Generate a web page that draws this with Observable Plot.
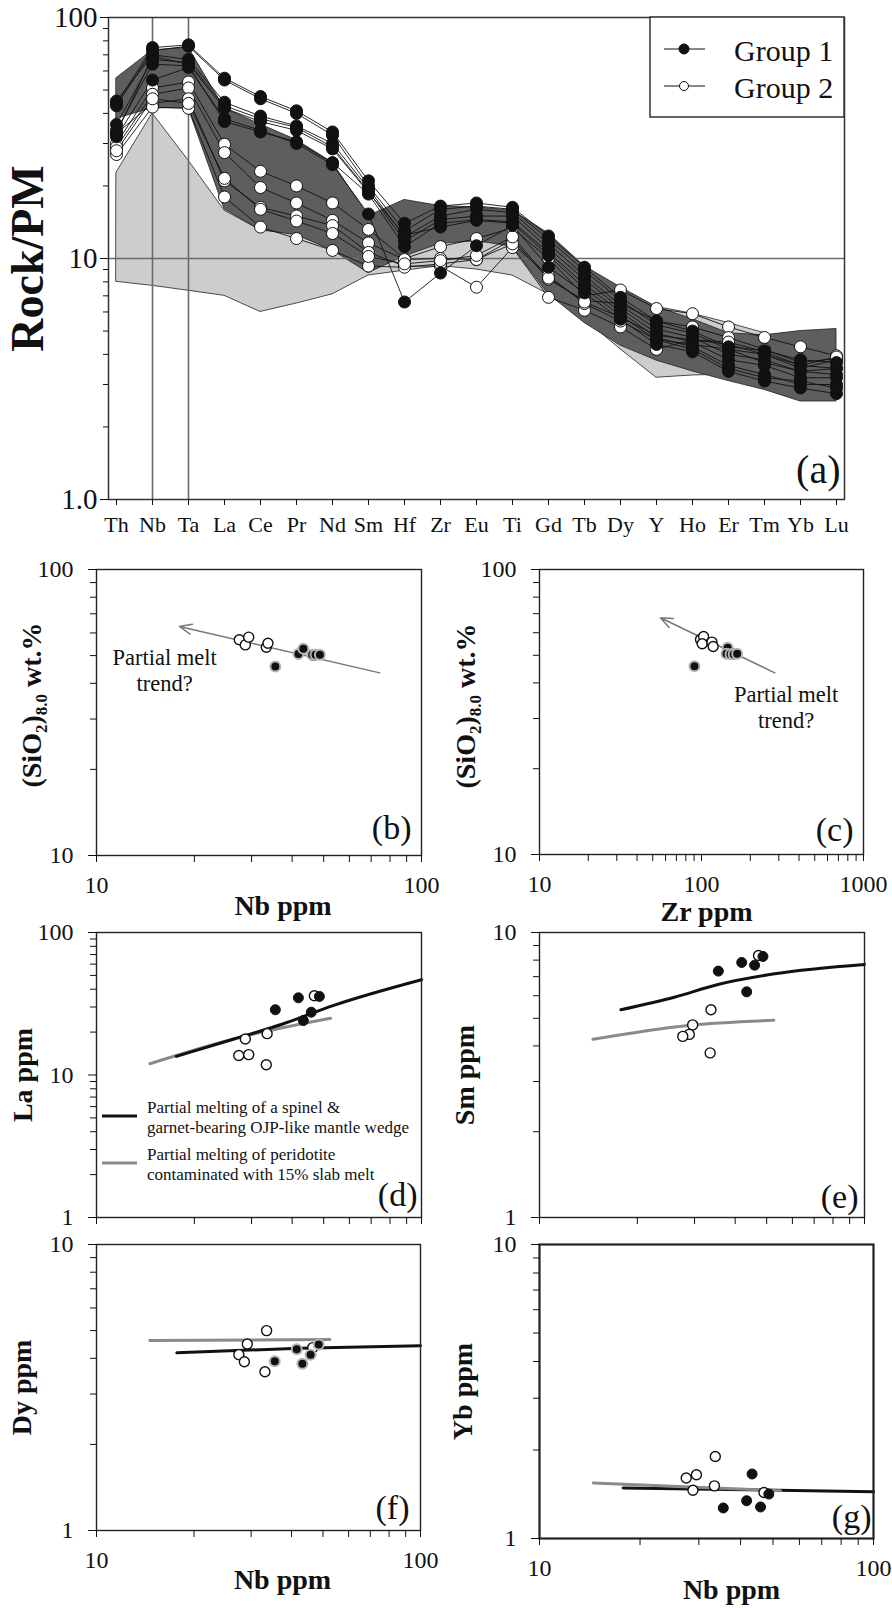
<!DOCTYPE html>
<html><head><meta charset="utf-8">
<script src="https://cdn.jsdelivr.net/npm/d3@7"></script>
<script src="https://cdn.jsdelivr.net/npm/@observablehq/plot@0.6"></script>
<style>
html,body{margin:0;padding:0;background:#fff;}
#page{position:relative;width:892px;height:1608px;overflow:hidden;background:#fff;}
#page svg{position:absolute;overflow:visible;}
</style></head><body><div id="page"></div>
<script>
// ---------- Panel (a): spider diagram ----------
const elements = ["Th","Nb","Ta","La","Ce","Pr","Nd","Sm","Hf","Zr","Eu","Ti","Gd","Tb","Dy","Y","Ho","Er","Tm","Yb","Lu"];
const group1 = [
  [44, 75, 77, 56, 47, 41, 33.5, 21, 14, 16.5, 17, 16.3, 12.4, 9.2, 6.9, 5.5, 5.0, 4.3, 4.15, 3.8, 3.7],
  [43, 73, 76, 55, 46, 40, 32.5, 20, 13, 16, 16.5, 16, 12, 8.9, 6.7, 5.3, 4.9, 4.2, 4.0, 3.6, 3.5],
  [45, 70, 67, 44.5, 39, 35.5, 30, 19.5, 12.3, 15, 16, 15.5, 11.5, 8.5, 6.4, 5.1, 4.7, 4.0, 3.8, 3.4, 3.3],
  [36, 67, 65, 43, 38, 35, 29, 19, 11.8, 14.5, 15, 15, 11, 8.2, 6.2, 4.9, 4.5, 3.8, 3.6, 3.2, 3.2],
  [34, 64, 63, 37, 33.5, 30.5, 25, 18.5, 11.2, 14, 14.5, 14.2, 10.6, 7.8, 6.0, 4.7, 4.3, 3.6, 3.3, 3.0, 3.0],
  [32, 55, 62, 38, 34, 30, 24.5, 15.3, 6.6, 8.7, 11.3, 13.7, 9.2, 7.2, 5.6, 4.4, 4.1, 3.4, 3.1, 2.9, 2.75],
  [33, 69, 64, 42, 37, 34, 28.5, 18.8, 12.5, 13.5, 14.4, 14, 10.3, 7.5, 5.8, 4.6, 4.2, 3.5, 3.2, 3.1, 2.9]
];
const group2 = [
  [30, 51, 54, 29.8, 23, 20, 17, 13.2, 10, 11.2, 12.1, 13.4, 10, 7.0, 7.4, 6.2, 5.9, 5.2, 4.7, 4.3, 3.95],
  [29, 48, 51, 27.5, 19.7, 17, 14.4, 11.6, 9.9, 10, 9.9, 12, 8.2, 6.7, 6.5, 5.5, 5.2, 4.7, 4.2, 3.7, 3.85],
  [33, 44, 46, 21, 16.3, 15, 13.7, 10.6, 9.3, 9.3, 7.6, 11.1, 6.9, 6.1, 5.2, 4.2, 4.6, 4.4, 4.0, 3.5, 3.8],
  [27, 42.5, 42, 18, 13.5, 12.1, 10.8, 9.3, 9.2, 9.5, 9.9, 11.5, 8.5, 6.5, 5.5, 4.6, 4.4, 4.2, 3.7, 3.4, 3.5],
  [28, 46, 44, 21.5, 16, 14.3, 12.7, 10.2, 9.5, 9.8, 10.3, 12.3, 8.3, 6.6, 5.7, 4.8, 4.6, 4.5, 4.1, 3.6, 3.9]
];
const darkUpper  = [56, 73, 75, 42, 36, 31, 25, 15, 17.5, 16.5, 16.3, 15.8, 12.7, 9.3, 7.6, 6.3, 5.6, 4.9, 4.8, 5.0, 5.1];
const darkLower  = [38, 42, 42, 16, 13.1, 12.5, 10.8, 8.7, 10.2, 11.5, 11.8, 11.2, 7.1, 5.4, 4.35, 3.77, 3.4, 3.1, 2.85, 2.55, 2.55];
const lightUpper = [22.7, 40, 25.5, 15.8, 13.1, 12.7, 11.5, 9.6, 10.5, 12, 12, 11.5, 9.5, 7.8, 6.8, 6.3, 5.9, 5.4, 4.9, 4.3, 4.0];
const lightLower = [8.0, 7.7, 7.35, 7.0, 6.0, 6.5, 7.1, 8.5, 8.9, 9.3, 9.0, 8.5, 7.1, 5.6, 4.2, 3.2, 3.27, 3.3, 3.2, 3.1, 3.0];
const ticksA = [1, 10, 100];
const minorA = [2,3,4,5,6,7,8,9,20,30,40,50,60,70,80,90];
const legendA = ["Group 1", "Group 2"];

// ---------- Panel (b): SiO2(8.0) vs Nb ----------
const nbB_w = [27.5, 28.7, 29.4, 33.3, 33.7, 46.5];
const sio2B_w = [56.8, 54.5, 58.0, 53.5, 55.2, 50.2];
const nbB_b = [35.5, 41.8, 43.3, 46.1, 47.2, 48.7];
const sio2B_b = [45.8, 50.6, 52.8, 50.3, 50.3, 50.3];
const arrowB = [{x1: 74.4, y1: 43.5, x2: 18.0, y2: 63.2}];
const noteB = [{x: 16.2, y: 44.7, t: "Partial melt\ntrend?"}];

// ---------- Panel (c): SiO2(8.0) vs Zr ----------
const zrC_w = [98.6, 103, 101, 116, 118, 155];
const sio2C_w = [56.8, 58.2, 54.9, 55.6, 53.7, 50.6];
const zrC_b = [90.5, 145, 142.6, 151, 158, 166];
const sio2C_b = [45.8, 53.1, 50.6, 50.4, 50.4, 50.6];
const arrowC = [{x1: 283.5, y1: 43.4, x2: 55.8, y2: 67.7}];
const noteC = [{x: 333, y: 33.0, t: "Partial melt\ntrend?"}];

// ---------- Panel (d): La vs Nb ----------
const nbD_w = [28.7, 27.4, 29.4, 33.5, 33.3, 46.8];
const laD_w = [17.9, 13.7, 13.9, 19.5, 11.8, 36];
const nbD_b = [35.5, 41.8, 43.3, 45.8, 48.5];
const laD_b = [28.7, 34.8, 24.1, 27.6, 35.6];
const modelD_black_nb = [17.6, 26.5, 37.6, 53.7, 100];
const modelD_black_la = [13.5, 17.9, 22.9, 30.8, 46.6];
const modelD_gray_nb = [14.6, 27.7, 52.5];
const modelD_gray_la = [12.0, 18.4, 25.0];
const legendD = [
  "Partial melting of a spinel &\ngarnet-bearing OJP-like mantle wedge",
  "Partial melting of peridotite\ncontaminated with 15% slab melt"
];

// ---------- Panel (e): Sm vs Nb ----------
const nbE_w = [33.7, 29.6, 28.9, 27.6, 33.5, 47.2];
const smE_w = [5.36, 4.74, 4.39, 4.32, 3.78, 8.3];
const nbE_b = [35.5, 41.9, 45.9, 48.7, 43.4];
const smE_b = [7.32, 7.85, 7.68, 8.24, 6.19];
const modelE_black_nb = [17.8, 26.0, 35.4, 52.9, 100];
const modelE_black_sm = [5.36, 5.93, 6.57, 7.16, 7.72];
const modelE_gray_nb = [14.6, 28.6, 52.6];
const modelE_gray_sm = [4.22, 4.72, 4.92];

// ---------- Panel (f): Dy vs Nb ----------
const nbF_w = [33.5, 29.2, 27.5, 28.6, 33.1, 46.5];
const dyF_w = [5.0, 4.49, 4.12, 3.89, 3.59, 4.36];
const nbF_b = [35.5, 41.5, 43.2, 45.8, 48.5];
const dyF_b = [3.91, 4.3, 3.83, 4.12, 4.47];
const modelF_black_nb = [17.7, 42.4, 100];
const modelF_black_dy = [4.18, 4.34, 4.43];
const modelF_gray_nb = [14.6, 52.5];
const modelF_gray_dy = [4.62, 4.65];

// ---------- Panel (g): Yb vs Nb ----------
const nbG_w = [33.6, 27.5, 29.5, 28.8, 33.4, 47.0];
const ybG_w = [1.90, 1.606, 1.648, 1.46, 1.51, 1.434];
const nbG_b = [43.3, 35.5, 41.7, 45.9, 48.6];
const ybG_b = [1.657, 1.27, 1.344, 1.28, 1.416];
const modelG_black_nb = [17.8, 100];
const modelG_black_yb = [1.484, 1.443];
const modelG_gray_nb = [14.5, 52.7];
const modelG_gray_yb = [1.544, 1.453];

const dec1 = [2,3,4,5,6,7,8,9];
const dec10 = [20,30,40,50,60,70,80,90];
const dec100 = [200,300,400,500,600,700,800,900];

// ---------- helpers ----------
const FONT = '"Liberation Serif", "Times New Roman", Times, serif';
const INK = "#111";
const DARK = "#5e5e5e", LIGHT = "#cdcdd0", MODELGRAY = "#8a8a8a", ARROW = "#777";
const page = document.getElementById("page");
function place(svg, left, top) {
  svg.style.position = "absolute";
  svg.style.left = left + "px";
  svg.style.top = top + "px";
  page.appendChild(svg);
  return svg;
}

// ---------- Panel (a) ----------
const rowsA = [];
group1.forEach((vals, i) => vals.forEach((v, j) => rowsA.push({el: elements[j], v, id: "g1-" + i, grp: 1})));
group2.forEach((vals, i) => vals.forEach((v, j) => rowsA.push({el: elements[j], v, id: "g2-" + i, grp: 2})));
const fieldA = elements.map((el, j) => ({el, du: darkUpper[j], dl: darkLower[j], lu: lightUpper[j], ll: lightLower[j]}));

const svgA = Plot.plot({
  width: 892, height: 545,
  marginLeft: 108, marginRight: 48, marginTop: 17, marginBottom: 46,
  x: {type: "point", domain: elements, padding: 0, label: null},
  y: {type: "log", domain: [1, 100], label: null},
  style: {fontFamily: FONT, background: "transparent", color: INK},
  marks: [
    Plot.areaY(fieldA, {x: "el", y1: "ll", y2: "lu", fill: LIGHT, stroke: "#222", strokeWidth: 0.8}),
    Plot.areaY(fieldA, {x: "el", y1: "dl", y2: "du", fill: DARK, stroke: "#222", strokeWidth: 0.8}),
    Plot.ruleY([10], {stroke: "#6a6a6a", strokeWidth: 1.6}),
    Plot.ruleX(["Nb", "Ta"], {stroke: "#6a6a6a", strokeWidth: 1.6}),
    Plot.line(rowsA, {x: "el", y: "v", z: "id", stroke: INK, strokeWidth: 0.9}),
    Plot.dot(rowsA.filter(d => d.grp === 2), {x: "el", y: "v", r: 6, fill: "white", stroke: INK, strokeWidth: 1}),
    Plot.dot(rowsA.filter(d => d.grp === 1), {x: "el", y: "v", r: 6, fill: INK, stroke: INK, strokeWidth: 1}),
    Plot.frame({stroke: "#333", strokeWidth: 1.5}),
    Plot.axisY(ticksA, {tickSize: 8, tickPadding: 3, fontSize: 29, tickFormat: d => d === 1 ? "1.0" : String(d), label: null}),
    Plot.axisY(minorA, {tickSize: 5, tickFormat: () => "", label: null}),
    Plot.axisX(elements, {tickSize: 6, tickPadding: 11, fontSize: 22, label: null}),
    Plot.text(["Rock/PM"], {frameAnchor: "left", textAnchor: "middle", lineAnchor: "middle", dx: -80, rotate: -90, fontSize: 46, fontWeight: "bold", fill: INK}),
    Plot.text(["(a)"], {frameAnchor: "bottom-right", textAnchor: "end", lineAnchor: "middle", dx: -4, dy: -29, fontSize: 40, fill: INK})
  ]
});
place(svgA, 0, 0);
// legend box for panel (a)
{
  const g = d3.select(svgA).append("g").attr("font-family", FONT);
  g.append("rect").attr("x", 650).attr("y", 17).attr("width", 194).attr("height", 100)
    .attr("fill", "white").attr("stroke", "#333").attr("stroke-width", 1.5);
  legendA.forEach((lab, i) => {
    const y = i === 0 ? 49 : 86;
    g.append("line").attr("x1", 664).attr("x2", 705).attr("y1", y).attr("y2", y).attr("stroke", INK).attr("stroke-width", 1);
    g.append("circle").attr("cx", 684).attr("cy", y).attr("r", i === 0 ? 5 : 4.5)
      .attr("fill", i === 0 ? INK : "white").attr("stroke", INK).attr("stroke-width", 1);
    g.append("text").attr("x", 734).attr("y", y + 12).attr("text-anchor", "start")
      .attr("font-size", 30).attr("fill", INK).text(lab);
  });
}

// ---------- scatter panel factory ----------
function scatterPanel(cfg) {
  const marks = [
    ...cfg.marks,
    Plot.frame({stroke: "#222", strokeWidth: cfg.frameWidth || 1.4}),
    Plot.axisY(cfg.yMajor, {tickSize: 8, tickPadding: 15, fontSize: 24, tickFormat: d => String(d), label: null}),
    Plot.axisY(cfg.yMinor, {tickSize: 6, tickFormat: () => "", label: null}),
    Plot.axisX(cfg.xMajor, {tickSize: 7, tickPadding: 13, fontSize: 24, tickFormat: cfg.xLabels ? (d => String(d)) : (() => ""), label: null}),
    Plot.axisX(cfg.xMinor, {tickSize: 7, tickFormat: () => "", label: null}),
    Plot.text([cfg.tag], {frameAnchor: "bottom-right", textAnchor: "end", lineAnchor: "middle", dx: cfg.tagDx, dy: cfg.tagDy, fontSize: 34, fill: INK})
  ];
  if (cfg.ylabel) marks.push(Plot.text([cfg.ylabel], {frameAnchor: "left", textAnchor: "middle", lineAnchor: "middle", dx: -cfg.ylabelOff, rotate: -90, fontSize: 28, fontWeight: "bold", fill: INK}));
  if (cfg.xlabel) marks.push(Plot.text([cfg.xlabel], {frameAnchor: "bottom", textAnchor: "middle", lineAnchor: "middle", dx: cfg.xlabelDx, dy: cfg.xlabelDy, fontSize: 28, fontWeight: "bold", fill: INK}));
  const svg = Plot.plot({
    width: cfg.width, height: cfg.height,
    marginLeft: cfg.ml, marginRight: cfg.mr, marginTop: cfg.mt, marginBottom: cfg.mb,
    x: {type: "log", domain: cfg.xDomain, label: null},
    y: {type: "log", domain: cfg.yDomain, label: null},
    style: {fontFamily: FONT, background: "transparent", color: INK},
    marks
  });
  return place(svg, cfg.left, cfg.top);
}
function sio2Label(svg, cx, cy) {
  const t = d3.select(svg).append("text")
    .attr("transform", `translate(${cx},${cy}) rotate(-90)`)
    .attr("text-anchor", "middle").attr("font-family", FONT).attr("font-size", 28)
    .attr("font-weight", "bold").attr("fill", INK).attr("dy", "0.32em");
  t.append("tspan").text("(SiO");
  t.append("tspan").attr("font-size", 17).attr("dy", 6).text("2");
  t.append("tspan").attr("dy", -6).text(")");
  t.append("tspan").attr("font-size", 17).attr("dy", 6).text("8.0");
  t.append("tspan").attr("dy", -6).text(" wt.%");
}
const whiteDot = (xs, ys) => Plot.dot(xs, {x: xs, y: ys, r: 5, fill: "white", stroke: INK, strokeWidth: 1.4});
const blackDot = (xs, ys, halo) => Plot.dot(xs, {x: xs, y: ys, r: 5, fill: INK, stroke: halo ? "#b4b4b4" : INK, strokeWidth: halo ? 2 : 1});
const model = (xs, ys, color) => Plot.line(xs, {x: xs, y: ys, stroke: color, strokeWidth: 3, curve: "monotone-x"});

// (b)
const svgB = scatterPanel({
  left: 0, top: 540, width: 446, height: 380, ml: 96, mr: 25, mt: 29, mb: 65,
  xDomain: [10, 100], yDomain: [10, 100], xMajor: [10, 100], xMinor: dec10, yMajor: [10, 100], yMinor: dec10,
  xLabels: true, tag: "(b)", tagDx: -10, tagDy: -27, xlabel: "Nb ppm", xlabelDx: 24, xlabelDy: 51,
  marks: [
    Plot.arrow(arrowB, {x1: "x1", y1: "y1", x2: "x2", y2: "y2", stroke: ARROW, strokeWidth: 1.5, headLength: 13, headAngle: 45}),
    Plot.text(noteB, {x: "x", y: "y", text: "t", fontSize: 22.5, lineHeight: 1.18, fill: INK}),
    whiteDot(nbB_w, sio2B_w),
    blackDot(nbB_b, sio2B_b, true)
  ]
});
sio2Label(svgB, 32, 165);

// (c)
const svgC = scatterPanel({
  left: 446, top: 540, width: 446, height: 380, ml: 93, mr: 29, mt: 29, mb: 66,
  xDomain: [10, 1000], yDomain: [10, 100], xMajor: [10, 100, 1000], xMinor: [...dec10, ...dec100], yMajor: [10, 100], yMinor: dec10,
  xLabels: true, tag: "(c)", tagDx: -10, tagDy: -24, xlabel: "Zr ppm", xlabelDx: 5, xlabelDy: 58,
  marks: [
    Plot.arrow(arrowC, {x1: "x1", y1: "y1", x2: "x2", y2: "y2", stroke: ARROW, strokeWidth: 1.5, headLength: 13, headAngle: 45}),
    Plot.text(noteC, {x: "x", y: "y", text: "t", fontSize: 22.5, lineHeight: 1.18, fill: INK}),
    whiteDot(zrC_w, sio2C_w),
    blackDot(zrC_b, sio2C_b, true)
  ]
});
sio2Label(svgC, 20, 166);

// (d)
const svgD = scatterPanel({
  left: 0, top: 910, width: 446, height: 330, ml: 96, mr: 25, mt: 22, mb: 23,
  xDomain: [10, 100], yDomain: [1, 100], xMajor: [10, 100], xMinor: dec10, yMajor: [1, 10, 100], yMinor: [...dec1, ...dec10],
  xLabels: false, tag: "(d)", tagDx: -4, tagDy: -22, ylabel: "La ppm", ylabelOff: 73,
  marks: [
    model(modelD_gray_nb, modelD_gray_la, MODELGRAY),
    model(modelD_black_nb, modelD_black_la, INK),
    whiteDot(nbD_w, laD_w),
    blackDot(nbD_b, laD_b, false)
  ]
});
{
  const g = d3.select(svgD).append("g").attr("font-family", FONT).attr("font-size", 17).attr("fill", INK);
  const ys = [206, 253];
  legendD.forEach((lab, i) => {
    g.append("line").attr("x1", 102).attr("x2", 137).attr("y1", ys[i]).attr("y2", ys[i])
      .attr("stroke", i === 0 ? INK : MODELGRAY).attr("stroke-width", 3);
    lab.split("\n").forEach((line, k) => {
      g.append("text").attr("x", 147).attr("y", ys[i] - 3 + k * 20).attr("text-anchor", "start").text(line);
    });
  });
}

// (e)
scatterPanel({
  left: 446, top: 910, width: 446, height: 330, ml: 93, mr: 28, mt: 22, mb: 23,
  xDomain: [10, 100], yDomain: [1, 10], xMajor: [10, 100], xMinor: dec10, yMajor: [1, 10], yMinor: dec1,
  xLabels: false, tag: "(e)", tagDx: -6, tagDy: -20, ylabel: "Sm ppm", ylabelOff: 74,
  marks: [
    model(modelE_black_nb, modelE_black_sm, INK),
    model(modelE_gray_nb, modelE_gray_sm, MODELGRAY),
    whiteDot(nbE_w, smE_w),
    blackDot(nbE_b, smE_b, false)
  ]
});

// (f)
scatterPanel({
  left: 0, top: 1225, width: 446, height: 383, ml: 96, mr: 26, mt: 19, mb: 78,
  xDomain: [10, 100], yDomain: [1, 10], xMajor: [10, 100], xMinor: dec10, yMajor: [1, 10], yMinor: dec1,
  xLabels: true, tag: "(f)", tagDx: -11, tagDy: -22, ylabel: "Dy ppm", ylabelOff: 74, xlabel: "Nb ppm", xlabelDx: 24, xlabelDy: 50,
  marks: [
    model(modelF_gray_nb, modelF_gray_dy, MODELGRAY),
    model(modelF_black_nb, modelF_black_dy, INK),
    whiteDot(nbF_w, dyF_w),
    blackDot(nbF_b, dyF_b, true)
  ]
});

// (g)
scatterPanel({
  left: 446, top: 1225, width: 446, height: 383, ml: 93, mr: 19, mt: 19, mb: 70,
  xDomain: [10, 100], yDomain: [1, 10], xMajor: [10, 100], xMinor: dec10, yMajor: [1, 10], yMinor: dec1,
  xLabels: true, tag: "(g)", tagDx: -2, tagDy: -21, ylabel: "Yb ppm", ylabelOff: 76, xlabel: "Nb ppm", xlabelDx: 25, xlabelDy: 52,
  frameWidth: 2.2,
  marks: [
    model(modelG_black_nb, modelG_black_yb, INK),
    model(modelG_gray_nb, modelG_gray_yb, MODELGRAY),
    whiteDot(nbG_w, ybG_w),
    blackDot(nbG_b, ybG_b, false)
  ]
});
</script>
</body></html>
